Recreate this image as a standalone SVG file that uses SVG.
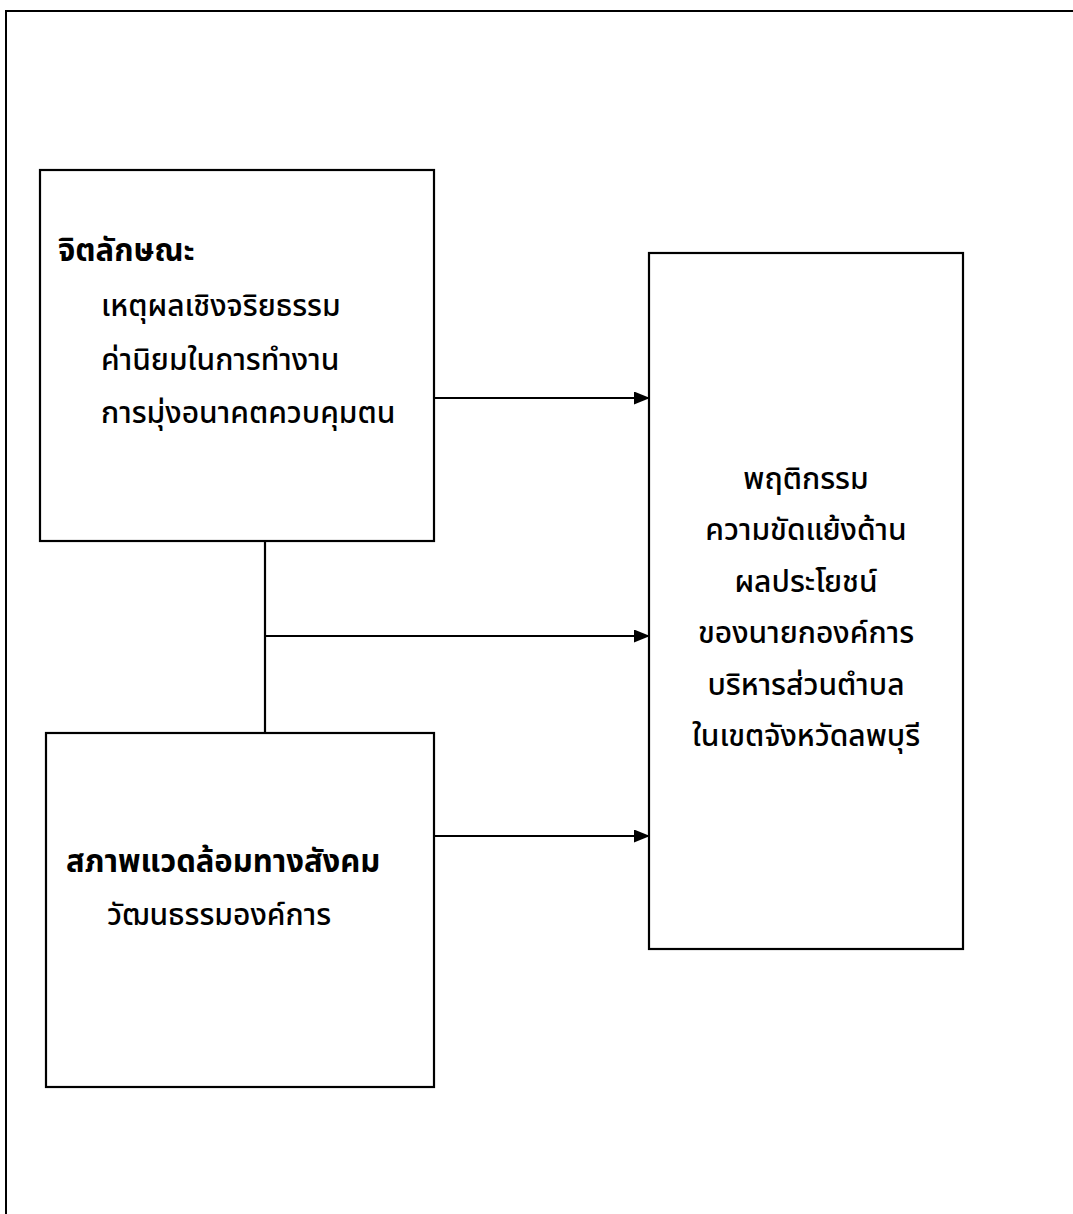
<svg xmlns="http://www.w3.org/2000/svg" width="1073" height="1214" viewBox="0 0 1073 1214">
  <style>
    .frame { fill: none; stroke: #000; stroke-width: 2; }
    .box { fill: #fff; stroke: #000; stroke-width: 2.2; }
    .conn { fill: none; stroke: #000; stroke-width: 2.2; }
    .t { font-family: "Noto Sans Thai", "Noto Sans", "DejaVu Sans", sans-serif; font-size: 30px; font-weight: 500; fill: #000; }
    .b { font-weight: bold; font-size: 31px; }
    .c { text-anchor: middle; }
  </style>
  <defs>
    <marker id="arrow" viewBox="0 0 16 13" refX="16" refY="6.5" markerWidth="16" markerHeight="13" markerUnits="userSpaceOnUse" orient="auto">
      <path d="M0,0 L16,6.5 L0,13 Z" fill="#000"/>
    </marker>
  </defs>

  <rect width="1073" height="1214" fill="#fff"/>

  <!-- page border -->
  <path class="frame" d="M6,1214 L6,11 L1073,11"/>

  <g id="node-psych">
    <rect class="box" x="40" y="170" width="394" height="371"/>
    <text class="t b" x="58" y="261">จิตลักษณะ</text>
    <text class="t" x="101" y="316">เหตุผลเชิงจริยธรรม</text>
    <text class="t" x="101" y="370">ค่านิยมในการทำงาน</text>
    <text class="t" x="101" y="423">การมุ่งอนาคตควบคุมตน</text>
  </g>

  <g id="node-social">
    <rect class="box" x="46" y="733" width="388" height="354"/>
    <text class="t b" x="66" y="872">สภาพแวดล้อมทางสังคม</text>
    <text class="t" x="107" y="925">วัฒนธรรมองค์การ</text>
  </g>

  <g id="node-behavior">
    <rect class="box" x="649" y="253" width="314" height="696"/>
    <text class="t c" x="806" y="489">พฤติกรรม</text>
    <text class="t c" x="806" y="540">ความขัดแย้งด้าน</text>
    <text class="t c" x="806" y="592">ผลประโยชน์</text>
    <text class="t c" x="806" y="643">ของนายกองค์การ</text>
    <text class="t c" x="806" y="695">บริหารส่วนตำบล</text>
    <text class="t c" x="806" y="746">ในเขตจังหวัดลพบุรี</text>
  </g>

  <g id="connectors">
    <line class="conn" x1="265" y1="541" x2="265" y2="733"/>
    <line class="conn" x1="434" y1="398" x2="650" y2="398" marker-end="url(#arrow)"/>
    <line class="conn" x1="265" y1="636" x2="650" y2="636" marker-end="url(#arrow)"/>
    <line class="conn" x1="434" y1="836" x2="650" y2="836" marker-end="url(#arrow)"/>
  </g>
</svg>
